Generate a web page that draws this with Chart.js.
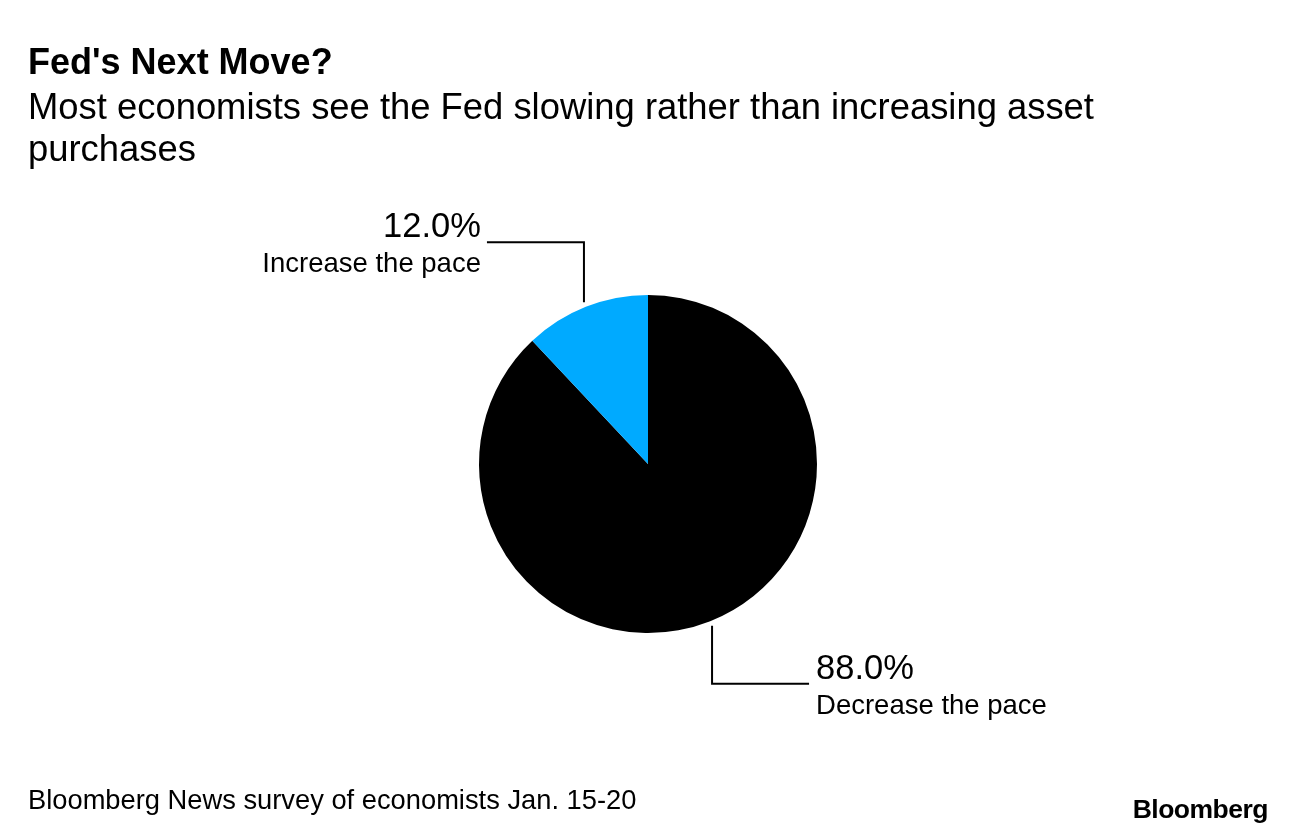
<!DOCTYPE html>
<html>
<head>
<meta charset="utf-8">
<title>Fed's Next Move?</title>
<script src="https://cdn.jsdelivr.net/npm/chart.js@4.4.1/dist/chart.umd.min.js"></script>
<style>
  body { margin:0; background:#fff; color:#000; font-family:'Liberation Sans', Arial, sans-serif; }
  #wrap { position:relative; width:1296px; height:836px; overflow:hidden; }
  #chart { position:absolute; left:0; top:0; }
  .txt { position:absolute; white-space:nowrap; }
  #title { left:28px; top:44px; font-size:36px; line-height:36px; font-weight:700; }
  #sub { left:28px; top:86px; font-size:36.4px; line-height:42px; }
  #foot { left:28px; top:786px; font-size:27.3px; line-height:27px; }
  #logo { right:28px; top:796px; font-size:26.5px; line-height:27px; font-weight:700; letter-spacing:-0.5px; }
</style>
</head>
<body>
<div id="wrap">
  <canvas id="chart" width="1296" height="836"></canvas>
  <div class="txt" id="title">Fed's Next Move?</div>
  <div class="txt" id="sub">Most economists see the Fed slowing rather than increasing asset<br>purchases</div>
  <div class="txt" id="foot">Bloomberg News survey of economists Jan. 15-20</div>
  <div class="txt" id="logo">Bloomberg</div>
</div>
<script>
// survey answers (share of economists, %)
const categories = ['Decrease the pace', 'Increase the pace'];
const shares     = [88.0, 12.0];
const colors     = ['#000000', '#00aaff'];

// leader line: gap from the rim, vertical rise (up / down), horizontal run
const GAP = 5, RISE_UP = 60, RISE_DOWN = 58, RUN = 97;

const leaderLabels = {
  id: 'leaderLabels',
  afterDraw(chart) {
    const ctx = chart.ctx;
    const meta = chart.getDatasetMeta(0);
    meta.data.forEach((arc, i) => {
      const mid = (arc.startAngle + arc.endAngle) / 2;
      const r = arc.outerRadius + GAP;
      const x0 = arc.x + Math.cos(mid) * r;
      const y0 = arc.y + Math.sin(mid) * r;
      const up = Math.sin(mid) < 0;
      const left = Math.cos(mid) < 0;
      const y1 = y0 + (up ? -RISE_UP : RISE_DOWN);
      const x1 = x0 + (left ? -RUN : RUN);

      ctx.save();
      ctx.strokeStyle = '#000';
      ctx.lineWidth = 2;
      ctx.beginPath();
      ctx.moveTo(x0, y0);
      ctx.lineTo(x0, y1);
      ctx.lineTo(x1, y1);
      ctx.stroke();

      const tx = left ? x1 - 6 : x1 + 7;
      ctx.textAlign = left ? 'right' : 'left';
      ctx.textBaseline = 'alphabetic';
      ctx.fillStyle = '#000';
      ctx.font = "34.5px 'Liberation Sans', Arial, sans-serif";
      ctx.fillText(shares[i].toFixed(1) + '%', tx, y1 - 5);
      ctx.font = "27.5px 'Liberation Sans', Arial, sans-serif";
      ctx.fillText(categories[i], tx, y1 + 30);
      ctx.restore();
    });
  }
};

new Chart(document.getElementById('chart').getContext('2d'), {
  type: 'pie',
  data: {
    labels: categories,
    datasets: [{
      data: shares,
      backgroundColor: colors,
      borderWidth: 0,
      hoverOffset: 0,
    }]
  },
  options: {
    responsive: false,
    animation: false,
    events: [],
    layout: { padding: { left: 479, right: 479, top: 295, bottom: 203 } },
    plugins: {
      legend: { display: false },
      tooltip: { enabled: false },
    }
  },
  plugins: [leaderLabels]
});
</script>
</body>
</html>
